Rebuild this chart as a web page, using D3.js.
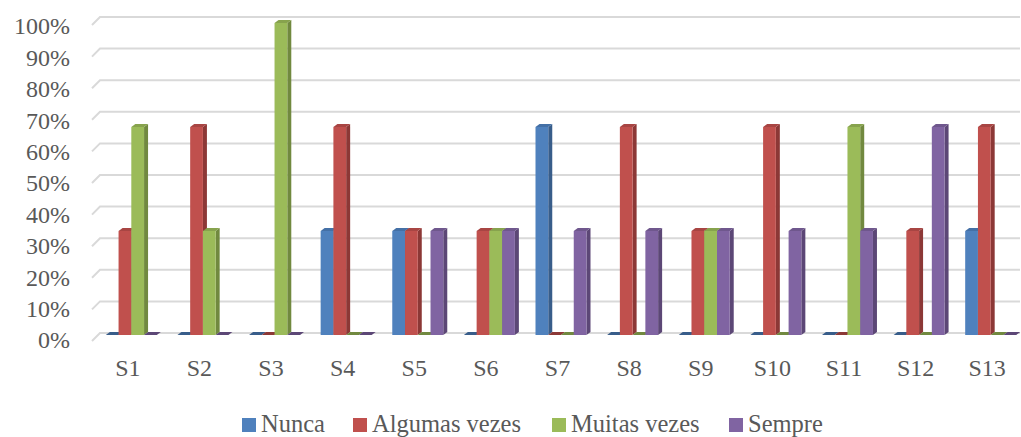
<!DOCTYPE html>
<html>
<head>
<meta charset="utf-8">
<script src="https://cdn.jsdelivr.net/npm/d3@7"></script>
<style>
  html, body { margin: 0; padding: 0; background: #fff; }
  svg { display: block; }
  text { font-family: "Liberation Serif", "Times New Roman", serif; fill: #595959; }
</style>
</head>
<body>
<svg id="chart" width="1021" height="437"></svg>
<script>
// Survey answers per statement (share of respondents)
const categories = ["S1","S2","S3","S4","S5","S6","S7","S8","S9","S10","S11","S12","S13"];
const seriesNames = ["Nunca", "Algumas vezes", "Muitas vezes", "Sempre"];
const nunca        = [0,   0,   0,   1/3, 1/3, 0,   2/3, 0,   0,   0,   0,   0,   1/3];
const algumasVezes = [1/3, 2/3, 0,   2/3, 1/3, 1/3, 0,   2/3, 1/3, 2/3, 0,   1/3, 2/3];
const muitasVezes  = [2/3, 1/3, 1,   0,   0,   1/3, 0,   0,   1/3, 0,   2/3, 0,   0  ];
const sempre       = [0,   0,   0,   0,   1/3, 1/3, 1/3, 1/3, 1/3, 1/3, 1/3, 2/3, 0  ];
const yTicks = [0, 0.1, 0.2, 0.3, 0.4, 0.5, 0.6, 0.7, 0.8, 0.9, 1];

const seriesValues = [nunca, algumasVezes, muitasVezes, sempre];
const frontColor = ["#4F81BD", "#C0504D", "#9BBB59", "#8064A2"];
const sideColor  = ["#385D8A", "#8C3836", "#71893F", "#5C4776"];
const topColor   = ["#4470A6", "#A84543", "#87A34D", "#6F578D"];

const svg = d3.select("#chart");

// back wall (gridlines), front labels and bar scales
const yGrid  = d3.scaleLinear().domain([0, 1]).range([333, 17]);
const yLabel = d3.scaleLinear().domain([0, 1]).range([340, 26]);
const yBar   = d3.scaleLinear().domain([0, 1]).range([335, 23]);
const x = d3.scaleBand().domain(categories).range([92, 1023]);
const sub = d3.scaleBand().domain(d3.range(4)).range([0, 51]);
const dx = 4, dy = 3;

// gridlines with the short perspective edge on the left
const grid = svg.append("g");
yTicks.forEach(t => {
  const yb = yGrid(t);
  grid.append("path")
    .attr("d", `M92,${yb + 8}L100,${yb}L1020,${yb}`)
    .attr("fill", "none")
    .attr("stroke", "#D9D9D9")
    .attr("stroke-width", 2);
});

// y axis labels
svg.append("g").selectAll("text").data(yTicks).join("text")
  .attr("x", 70)
  .attr("y", d => yLabel(d))
  .attr("dy", "0.35em")
  .attr("text-anchor", "end")
  .attr("font-size", 24)
  .text(d => d3.format(".0%")(d));

// 3D columns
const bars = svg.append("g");
categories.forEach((c, i) => {
  const x0 = x(c) + x.bandwidth() / 2 - 22;
  seriesValues.forEach((vals, s) => {
    const v = vals[i];
    const bx = x0 + sub(s);
    const w = sub.bandwidth();
    const y0 = yBar(0), y1 = yBar(v);
    const g = bars.append("g");
    if (v > 0) {
      g.append("path")
        .attr("d", `M${bx + w},${y1}L${bx + w + dx},${y1 - dy}L${bx + w + dx},${y0 - dy}L${bx + w},${y0}Z`)
        .attr("fill", sideColor[s]);
      g.append("rect")
        .attr("x", bx).attr("y", y1)
        .attr("width", w).attr("height", y0 - y1)
        .attr("fill", frontColor[s]);
    }
    g.append("path")
      .attr("d", `M${bx},${y1}L${bx + dx},${y1 - dy}L${bx + w + dx},${y1 - dy}L${bx + w},${y1}Z`)
      .attr("fill", v > 0 ? topColor[s] : sideColor[s]);
  });
});

// category labels
svg.append("g").selectAll("text").data(categories).join("text")
  .attr("x", d => x(d) + x.bandwidth() / 2)
  .attr("y", 376)
  .attr("text-anchor", "middle")
  .attr("font-size", 24)
  .text(d => d);

// legend
const legendX = [242, 353, 552, 729];
const legend = svg.append("g");
seriesNames.forEach((n, s) => {
  legend.append("rect")
    .attr("x", legendX[s]).attr("y", 418)
    .attr("width", 14).attr("height", 14)
    .attr("fill", frontColor[s]);
  legend.append("text")
    .attr("x", legendX[s] + 19)
    .attr("y", 432)
    .attr("font-size", 24.5)
    .text(n);
});
</script>
</body>
</html>
